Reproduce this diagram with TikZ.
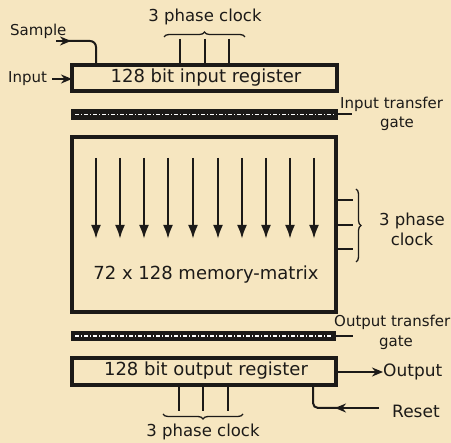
\documentclass[tikz,border=0pt]{standalone}
\usepackage{fontspec}
\setmainfont{DejaVu Sans}
\usetikzlibrary{arrows.meta,decorations.pathreplacing}
\definecolor{paper}{RGB}{246,230,192}
\definecolor{ink}{RGB}{28,26,24}
\begin{document}
\begin{tikzpicture}[x=1pt,y=-1pt,
  box/.style={draw=ink,line width=3.2pt,fill=paper,inner sep=0pt},
  lbl/.style={text=ink,font=\fontsize{15}{19}\selectfont,inner sep=0pt,align=center},
  biglbl/.style={lbl,font=\fontsize{16.5}{20}\selectfont},
  boxlbl/.style={text=ink,font=\fontsize{18}{20}\selectfont,inner sep=0pt},
  wire/.style={draw=ink,line width=2pt},
  arr/.style={draw=ink,line width=2.4pt,-{Latex[length=14pt,width=10pt]}},
  tip/.style={wire,-{Stealth[length=11pt,width=9pt]}},
  brace/.style={draw=ink,line width=1.3pt,decorate,decoration={brace,amplitude=5pt}}]
\fill[paper] (0,0) rectangle (451,443);
\useasboundingbox (0,0) rectangle (451,443);
% input register
\draw[box] (72,65) rectangle (337,91);
\node[boxlbl] (inreg) at (206,78) {128 bit input register};
\coordinate (inregN) at (96,65);
% input transfer gate
\fill[ink] (71,109) rectangle (338,120);
\draw[white,line width=1.2pt,dash pattern=on 4pt off 2pt on 1pt off 2pt] (75,114.5) -- (334,114.5);
\draw[wire] (338,114.5) -- (352,114.5);
\node[lbl,anchor=west] (itg) at (340,104) {Input transfer};
\node[lbl] (itg2) at (397,124) {gate};
% memory matrix
\draw[box,line width=4pt] (72,137) rectangle (336,312);
\foreach \x in {96,120,144,168,193,218,242,266,290,314}
  \draw[arr] (\x,158) -- (\x,239);
\node[boxlbl] (mm) at (206,275) {72 x 128 memory-matrix};
% right clock
\foreach \y in {200,225,249} \draw[wire] (338,\y) -- (353,\y);
\draw[brace] (356,189) -- (356,262);
\node[biglbl] (rclk) at (412,229) {3 phase\\clock};
% output transfer gate
\fill[ink] (71,331) rectangle (336,341);
\draw[white,line width=1.2pt,dash pattern=on 4pt off 2pt on 1pt off 2pt] (75,336) -- (332,336);
\draw[wire] (336,336) -- (353,336);
\node[lbl,anchor=west] (otg) at (334,322) {Output transfer};
\node[lbl] (otg2) at (396,343) {gate};
% output register
\draw[box] (72,358) rectangle (336,385);
\node[boxlbl] (outreg) at (206,371) {128 bit output register};
% output
\node[biglbl,anchor=west,font=\fontsize{17}{20}\selectfont] (out) at (383,372) {Output};
\draw[tip] (336,372) -- (out.west);
% reset
\node[biglbl,anchor=west,font=\fontsize{17}{20}\selectfont] (rst) at (392,411) {Reset};
\coordinate (rstc) at (313,386);
\draw[wire,rounded corners=5pt] (rstc) -- (313,408) -- (338,408);
\draw[tip] (379,408) -- (335,408);
% top clock
\foreach \x in {180,205,229} \draw[wire] (\x,39) -- (\x,65);
\draw[brace] (164,37) -- (245,37);
\node[biglbl] (tclk) at (205,17) {3 phase clock};
% bottom clock
\foreach \x in {179,203,228} \draw[wire] (\x,386) -- (\x,411);
\draw[brace] (243,414) -- (163,414);
\node[biglbl] (bclk) at (203,432) {3 phase clock};
% sample
\node[lbl,anchor=west] (samp) at (10,31) {Sample};
\draw[wire,rounded corners=6pt] (62,41) -- (96,41) -- (inregN);
\draw[tip] (56,41) -- (71,41);
% input
\node[lbl,anchor=west] (inp) at (8,79) {Input};
\draw[tip] (52,79) -- (72,79);
\end{tikzpicture}
\end{document}
